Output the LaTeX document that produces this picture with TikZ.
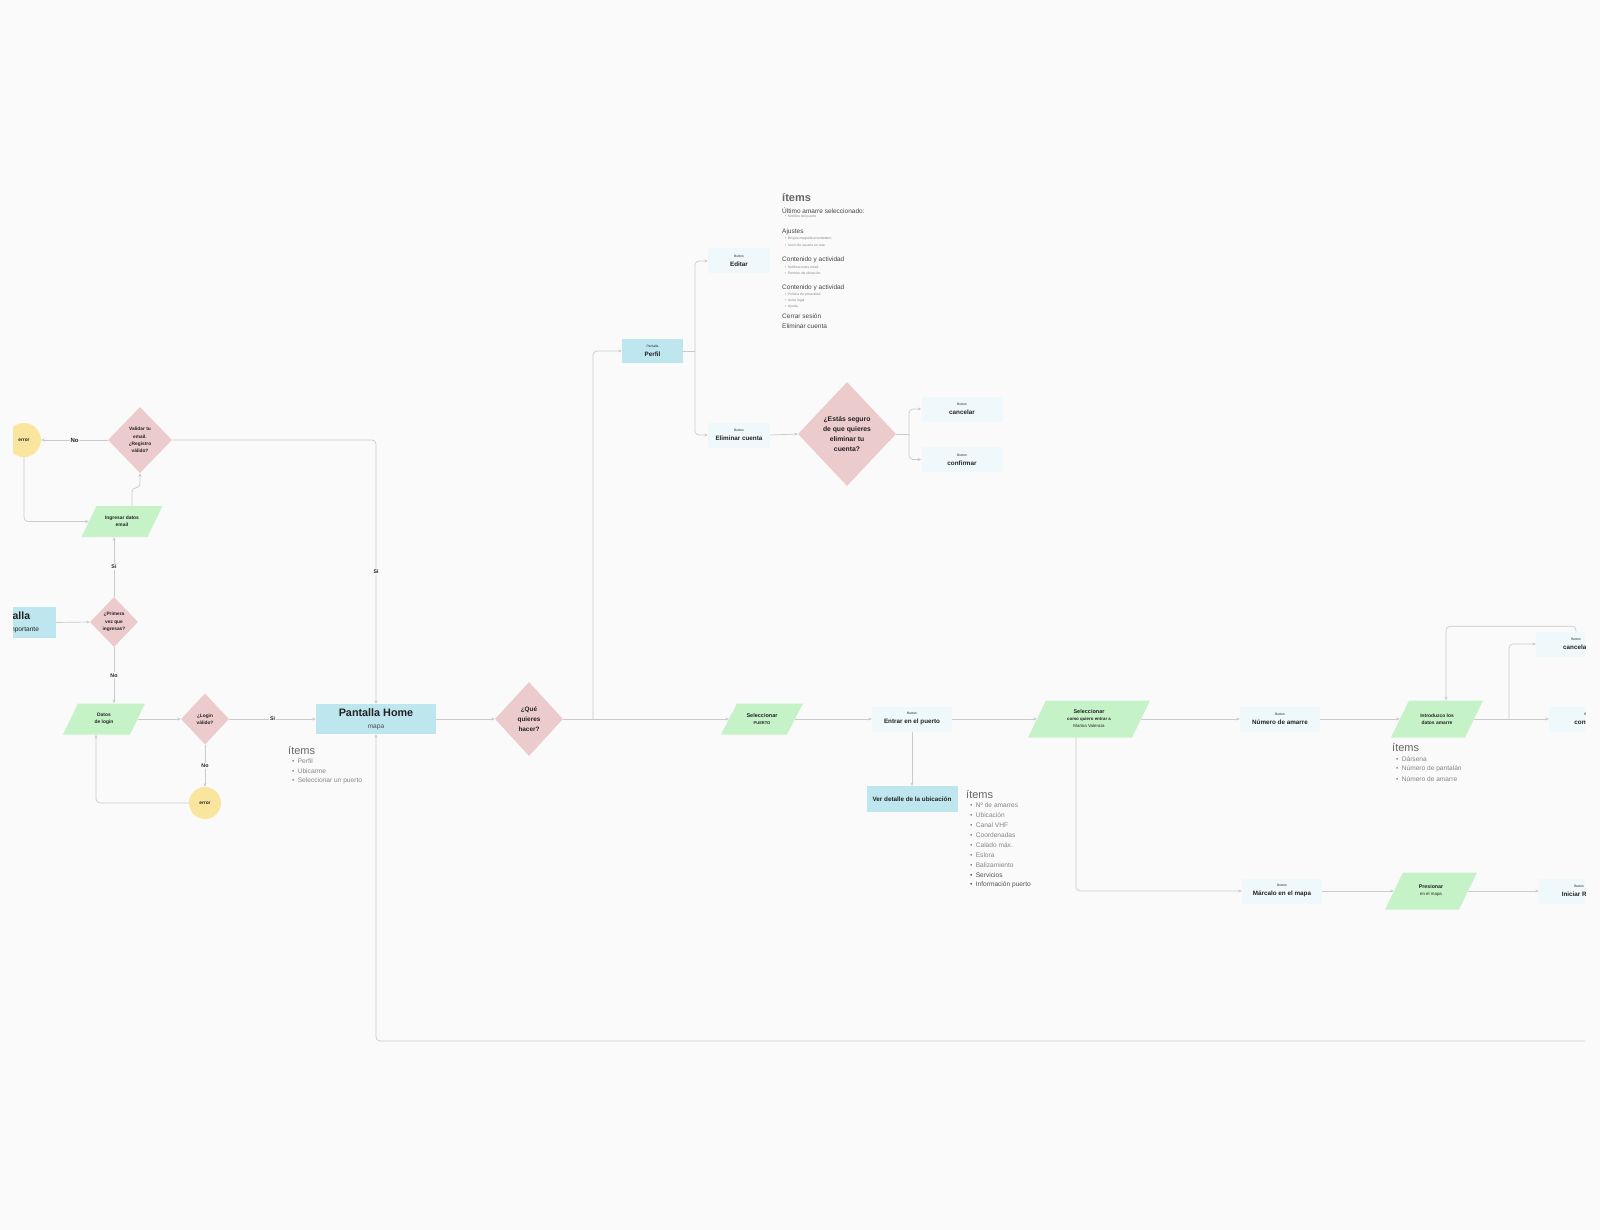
\documentclass[tikz,border=0pt]{standalone}
\usepackage{fontspec}
\setmainfont{Liberation Sans}
\usetikzlibrary{shapes.geometric,arrows.meta,calc}
\definecolor{bgcol}{HTML}{FAFAFA}
\definecolor{linecol}{HTML}{CACACA}
\definecolor{cyanbox}{HTML}{BEE6EF}
\definecolor{btncol}{HTML}{EFF9FC}
\definecolor{pinkcol}{HTML}{EBCBCB}
\definecolor{greencol}{HTML}{C6F2C8}
\definecolor{yellowcol}{HTML}{FAE59F}
\definecolor{textcol}{HTML}{222222}
\definecolor{graytext}{HTML}{666666}
\definecolor{listtext}{HTML}{858585}
\definecolor{subtext}{HTML}{454545}

\newcommand\mkpara[7]{%
 \pgfmathsetmacro\parL{#2-#4/2}%
 \pgfmathsetmacro\parR{#2+#4/2}%
 \pgfmathsetmacro\parT{#3-#5/2}%
 \pgfmathsetmacro\parB{#3+#5/2}%
 \pgfmathsetmacro\parO{#6/2}%
 \fill[greencol] (\parL-\parO,\parB) -- (\parR-\parO,\parB) -- (\parR+\parO,\parT) -- (\parL+\parO,\parT) -- cycle;
 \node[paranode, minimum width=#4pt, minimum height=#5pt] (#1) at (#2,#3) {#7};}
\newcommand\btnlabel[2]{{\fontsize{3.3}{4}\selectfont\mdseries #1}\\\textbf{#2}}

\tikzset{
 box/.style={rectangle, fill=cyanbox, inner sep=0pt, align=center, text=textcol},
 btn/.style={rectangle, fill=btncol, inner sep=0pt, align=center, text=textcol, minimum width=80pt, minimum height=25pt, font=\fontsize{6.3}{9}\selectfont},
 dia/.style={diamond, fill=pinkcol, inner sep=0pt, align=center, text=textcol, font=\fontsize{4.8}{7.4}\selectfont\bfseries},
 circ/.style={circle, fill=yellowcol, inner sep=0pt, text=textcol, font=\fontsize{4.8}{6}\selectfont\bfseries},
 paranode/.style={rectangle, inner sep=0pt, align=center, text=textcol, font=\fontsize{4.9}{7}\selectfont\bfseries},
 conn/.style={draw=linecol, line width=0.7pt, rounded corners=4pt, -{Stealth[length=3.5pt,width=3pt]}},
 pline/.style={draw=linecol, line width=0.7pt, rounded corners=4pt},
 lab/.style={fill=bgcol, inner sep=1.2pt, text=textcol, font=\fontsize{5.3}{6}\selectfont\bfseries},
 hd/.style={anchor=west, inner sep=0pt, text=graytext, font=\fontsize{11}{12}\selectfont},
 li/.style={anchor=west, inner sep=0pt, text=listtext, font=\fontsize{6.6}{7}\selectfont},
 sub/.style={anchor=west, inner sep=0pt, text=subtext, font=\fontsize{6.5}{7}\selectfont},
 tinytxt/.style={anchor=west, inner sep=0pt, text=listtext, font=\fontsize{3.4}{4}\selectfont},
}

\begin{document}
\begin{tikzpicture}[x=1pt,y=-1pt]
\fill[bgcol] (0,0) rectangle (1600,1230);
\useasboundingbox (0,0) rectangle (1600,1230);
\begin{scope}
\clip (13,0) rectangle (1585,1230);

% ---------- left column ----------
\node[circ, minimum size=34pt] (err1) at (24,440) {error};
\node[dia, minimum width=64pt, minimum height=66pt] (val) at (140,440) {Validar tu\\email.\\¿Registro\\válido?};
\mkpara{ing}{122}{521.5}{66}{31}{15}{Ingresar datos\\email}
\node[box, minimum width=92pt, minimum height=31pt] (pant) at (10,622.5) {{\fontsize{10.5}{12}\selectfont\bfseries Pantalla}\\{\fontsize{6.6}{8}\selectfont Mensaje importante}};
\node[dia, minimum width=48pt, minimum height=50pt] (prim) at (114,622) {¿Primera\\vez que\\ingresas?};
\mkpara{datos}{104}{719}{67}{31}{15}{Datos\\de login}
\node[dia, minimum width=48pt, minimum height=51pt] (login) at (205,719) {¿Login\\válido?};
\node[circ, minimum size=32pt] (err2) at (205,803) {error};

% ---------- home ----------
\node[box, minimum width=120pt, minimum height=30pt] (home) at (376,719) {{\fontsize{10.8}{12}\selectfont\bfseries Pantalla Home}\\{\fontsize{6.6}{8}\selectfont\color{textcol!80} mapa}};
\node[hd] (hi0) at (288,750) {ítems};
\node[li] (hi1) at (292,761) {\textbullet\enspace Perfil};
\node[li] (hi2) at (292,771) {\textbullet\enspace Ubicarme};
\node[li] (hi3) at (292,781) {\textbullet\enspace Seleccionar un puerto};

\node[dia, font=\fontsize{6.4}{10}\selectfont\bfseries, minimum width=68pt, minimum height=74pt] (que) at (529,719) {¿Qué\\quieres\\hacer?};

% ---------- perfil branch ----------
\node[box, minimum width=61pt, minimum height=24pt, font=\fontsize{6.3}{8.5}\selectfont] (perfil) at (652.5,351) {{\fontsize{3.3}{4}\selectfont Pantalla}\\\textbf{Perfil}};
\node[btn, minimum width=62pt] (editar) at (739,261) {\btnlabel{Button}{Editar}};
\node[btn, minimum width=62pt] (elim) at (739,435) {\btnlabel{Button}{Eliminar cuenta}};
\node[dia, font=\fontsize{6.8}{10}\selectfont\bfseries, minimum width=98pt, minimum height=104pt] (seguro) at (847,434) {¿Estás seguro\\de que quieres\\eliminar tu\\cuenta?};
\node[btn, minimum width=81pt] (cancel1) at (962,409) {\btnlabel{Button}{cancelar}};
\node[btn, minimum width=81pt] (confirm1) at (962,459.5) {\btnlabel{Button}{confirmar}};

\node[hd, font=\fontsize{11}{12}\selectfont\bfseries] (pi0) at (782,198) {ítems};
\node[sub] (pi1) at (782,211) {Último amarre seleccionado:};
\node[tinytxt] (pi2) at (785,217) {\textbullet\enspace Nombre del puerto};
\node[sub] (pi3) at (782,232) {Ajustes};
\node[tinytxt] (pi4) at (785,239) {\textbullet\enspace Brújula magnética/verdadero};
\node[tinytxt] (pi5) at (785,245) {\textbullet\enspace Icono de usuario en ruta};
\node[sub] (pi6) at (782,260) {Contenido y actividad};
\node[tinytxt] (pi7) at (785,267) {\textbullet\enspace Notificaciones email};
\node[tinytxt] (pi8) at (785,273) {\textbullet\enspace Permiso de ubicación};
\node[sub] (pi9) at (782,288) {Contenido y actividad};
\node[tinytxt] (pi10) at (785,295) {\textbullet\enspace Política de privacidad};
\node[tinytxt] (pi11) at (785,301) {\textbullet\enspace Aviso legal};
\node[tinytxt] (pi12) at (785,307) {\textbullet\enspace Ayuda};
\node[sub] (pi13) at (782,316) {Cerrar sesión};
\node[sub] (pi14) at (782,326) {Eliminar cuenta};

% ---------- puerto branch ----------
\mkpara{selp}{762}{719}{66}{31}{16}{{\fontsize{5.5}{7}\selectfont Seleccionar}\\{\fontsize{4}{5}\selectfont PUERTO}}
\node[btn] (entrar) at (912,719) {\btnlabel{Button}{Entrar en el puerto}};
\node[box, minimum width=91pt, minimum height=26pt, font=\fontsize{6.3}{8}\selectfont\bfseries] (ver) at (912,799) {Ver detalle de la ubicación};
\node[hd] (vi0) at (966,794) {ítems};
\node[li] (vi1) at (970,805) {\textbullet\enspace Nº de amarres};
\node[li] (vi2) at (970,815) {\textbullet\enspace Ubicación};
\node[li] (vi3) at (970,825) {\textbullet\enspace Canal VHF};
\node[li] (vi4) at (970,835) {\textbullet\enspace Coordenadas};
\node[li] (vi5) at (970,845) {\textbullet\enspace Calado máx.};
\node[li] (vi6) at (970,855) {\textbullet\enspace Eslora};
\node[li] (vi7) at (970,865) {\textbullet\enspace Balizamiento};
\node[li, text=graytext!80!black] (vi8) at (970,875) {\textbullet\enspace Servicios};
\node[li, text=graytext!80!black] (vi9) at (970,885) {\textbullet\enspace Información puerto};

\mkpara{selm}{1089}{719}{104}{37}{18}{{\fontsize{5.5}{7}\selectfont Seleccionar}\\{\fontsize{4.4}{6}\selectfont como quiero entrar a}\\{\fontsize{4.4}{6}\selectfont\mdseries Marina Valencia}}
\node[btn] (num) at (1280,719) {\btnlabel{Button}{Número de amarre}};
\mkpara{intro}{1437}{719}{74}{37}{18}{Introduzco los\\datos amarre}
\node[hd] (ii0) at (1392,747) {ítems};
\node[li] (ii1) at (1396,759) {\textbullet\enspace Dársena};
\node[li] (ii2) at (1396,769) {\textbullet\enspace Número de pantalán};
\node[li] (ii3) at (1396,779) {\textbullet\enspace Número de amarre};
\node[btn] (cancel2) at (1576,644) {\btnlabel{Button}{cancelar}};
\node[btn] (confirm2) at (1589,719) {\btnlabel{Button}{confirmar}};

\node[btn] (marc) at (1282,891) {\btnlabel{Button}{Márcalo en el mapa}};
\mkpara{pres}{1431}{891}{74}{37}{18}{{\fontsize{5.3}{7}\selectfont Presionar}\\{\fontsize{4.4}{6}\selectfont\mdseries en el mapa}}
\node[btn] (inic) at (1579,891) {\btnlabel{Button}{Iniciar Ruta}};

\coordinate (loopend) at (1600,1041);
\coordinate (b1) at (593,719);
\coordinate (b2) at (695,351);
\coordinate (b3) at (909,434);
\coordinate (b4) at (1509,719);

% ---------- connectors ----------
\draw[conn] (val.west) -- node[lab, font=\fontsize{6}{6}\selectfont\bfseries]{No} (err1.east);
\draw[conn] (err1.south) |- (ing.west);
\draw[conn] ([xshift=10pt]ing.north) -- ++(0,-18) -| (val.south);
\draw[conn] (val.east) -| node[lab, pos=0.75]{Si} (home.north);
\draw[conn] (pant.east) -- (prim.west);
\draw[conn] (prim.north) -- node[lab]{Si} (prim.north |- ing.south);
\draw[conn] (prim.south) -- node[lab]{No} (prim.south |- datos.north);
\draw[conn] (datos.east) -- (login.west);
\draw[conn] (login.south) -- node[lab]{No} (err2.north);
\draw[conn] (err2.west) -| ([xshift=-8pt]datos.south);
\draw[conn] (login.east) -- node[lab]{Si} (home.west);
\draw[conn] (loopend) -| (home.south);
\draw[conn] (home.east) -- (que.west);
\draw[conn] (que.east) -- (selp.west);
\draw[conn] (b1) |- (perfil.west);
\draw[pline] (perfil.east) -- (b2);
\draw[conn] (b2) |- (editar.west);
\draw[conn] (b2) |- (elim.west);
\draw[conn] (elim.east) -- (seguro.west);
\draw[pline] (seguro.east) -- (b3);
\draw[conn] (b3) |- (cancel1.west);
\draw[conn] (b3) |- (confirm1.west);
\draw[conn] (selp.east) -- (entrar.west);
\draw[conn] (entrar.south) -- (ver.north);
\draw[conn] (entrar.east) -- (selm.west);
\draw[conn] ([xshift=-13pt]selm.south) |- (marc.west);
\draw[conn] (selm.east) -- (num.west);
\draw[conn] (num.east) -- (intro.west);
\draw[conn] (intro.east) -- (confirm2.west);
\draw[conn] (b4) |- (cancel2.west);
\draw[conn] (cancel2.north) -- ++(0,-5) -| ([xshift=9pt]intro.north);
\draw[conn] (marc.east) -- (pres.west);
\draw[conn] (pres.east) -- (inic.west);
\end{scope}
\end{tikzpicture}
\end{document}
